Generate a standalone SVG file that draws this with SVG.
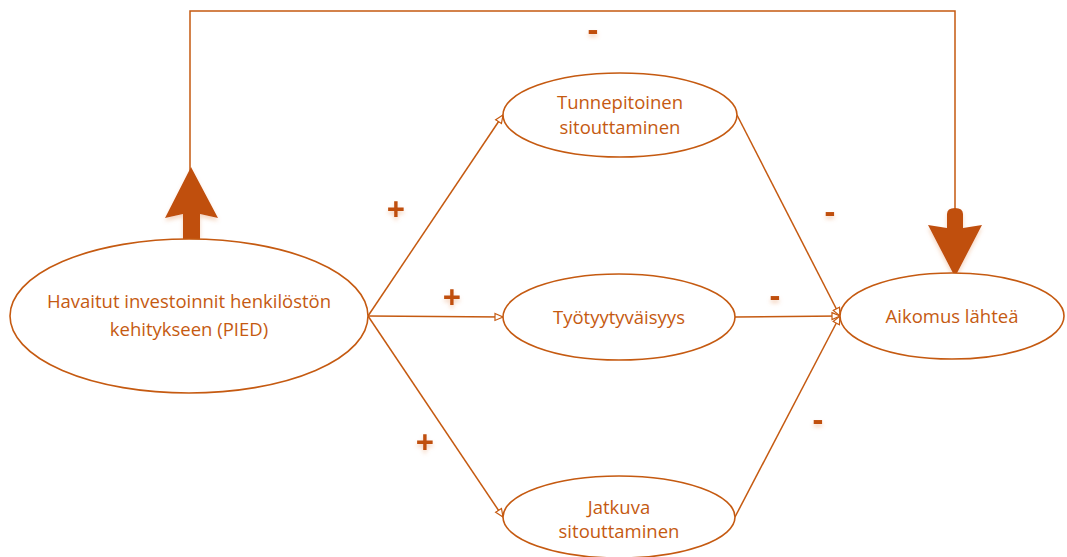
<svg xmlns="http://www.w3.org/2000/svg" width="1067" height="557" viewBox="0 0 1067 557">
  <style>
    .node ellipse { fill: #ffffff; stroke: #C55A11; stroke-width: 1.6; }
    .node text { font-family: "Open Sans", "Noto Sans", sans-serif; font-size: 18.5px; fill: #C55A11; text-anchor: middle; }
    .link { fill: none; stroke: #C55A11; stroke-width: 1.5; }
    .sign { font-family: "Open Sans", "Noto Sans", sans-serif; font-weight: bold; font-size: 32px; fill: #C0500A; text-anchor: middle; filter: url(#soft); }
    .bigarrow { fill: #C0500A; filter: url(#soft); }
  </style>
  <defs>
    <marker id="open" markerWidth="10" markerHeight="10" refX="9" refY="5" orient="auto" markerUnits="userSpaceOnUse">
      <path d="M1,1.5 L9,5 L1,8.5 Z" fill="#ffffff" stroke="#C55A11" stroke-width="1.2"/>
    </marker>
    <filter id="soft" x="-50%" y="-50%" width="200%" height="200%">
      <feGaussianBlur in="SourceAlpha" stdDeviation="2"/>
      <feOffset dy="3" result="b"/>
      <feFlood flood-color="#E8A070" flood-opacity="0.45"/>
      <feComposite in2="b" operator="in"/>
      <feMerge><feMergeNode/><feMergeNode in="SourceGraphic"/></feMerge>
    </filter>
  </defs>

  <!-- connectors -->
  <g id="connectors">
    <line class="link" x1="368" y1="316" x2="503" y2="115" marker-end="url(#open)"/>
    <line class="link" x1="368" y1="316" x2="503" y2="317" marker-end="url(#open)"/>
    <line class="link" x1="368" y1="316" x2="503" y2="517" marker-end="url(#open)"/>
    <line class="link" x1="737" y1="115" x2="840" y2="316" marker-end="url(#open)"/>
    <line class="link" x1="735" y1="317" x2="840" y2="316" marker-end="url(#open)"/>
    <line class="link" x1="735" y1="517" x2="840" y2="316" marker-end="url(#open)"/>
    <!-- feedback loop over the top -->
    <polyline class="link" points="190,200 190,11 955,11 955,215"/>
    <path class="bigarrow" d="M183,239 L183,214 L165,218 L191,167 L218,218 L200,214 L200,239 Z"/>
    <path class="bigarrow" d="M947,214 Q947,208 955,208 Q963,208 963,214 L963,228 L982,225 L955,277 L928,225 L947,228 Z"/>
  </g>

  <g id="n-pied" class="node">
    <ellipse cx="189" cy="316" rx="179" ry="77"/>
    <text x="189" y="308">Havaitut investoinnit henkilöstön</text>
    <text x="189" y="336">kehitykseen (PIED)</text>
  </g>
  <g id="n-tunne" class="node">
    <ellipse cx="620" cy="115" rx="117" ry="42"/>
    <text x="620" y="109">Tunnepitoinen</text>
    <text x="620" y="134">sitouttaminen</text>
  </g>
  <g id="n-tyytyvaisyys" class="node">
    <ellipse cx="619" cy="317" rx="116" ry="43"/>
    <text x="619" y="324">Työtyytyväisyys</text>
  </g>
  <g id="n-jatkuva" class="node">
    <ellipse cx="619" cy="517" rx="116" ry="41"/>
    <text x="619" y="514">Jatkuva</text>
    <text x="619" y="538">sitouttaminen</text>
  </g>
  <g id="n-aikomus" class="node">
    <ellipse cx="952" cy="316" rx="112" ry="43"/>
    <text x="952" y="323">Aikomus lähteä</text>
  </g>

  <g id="signs">
    <text class="sign" x="593" y="41">-</text>
    <text class="sign" x="396" y="221">+</text>
    <text class="sign" x="452" y="309">+</text>
    <text class="sign" x="425" y="454">+</text>
    <text class="sign" x="830" y="223">-</text>
    <text class="sign" x="775" y="307">-</text>
    <text class="sign" x="818" y="431">-</text>
  </g>
</svg>
